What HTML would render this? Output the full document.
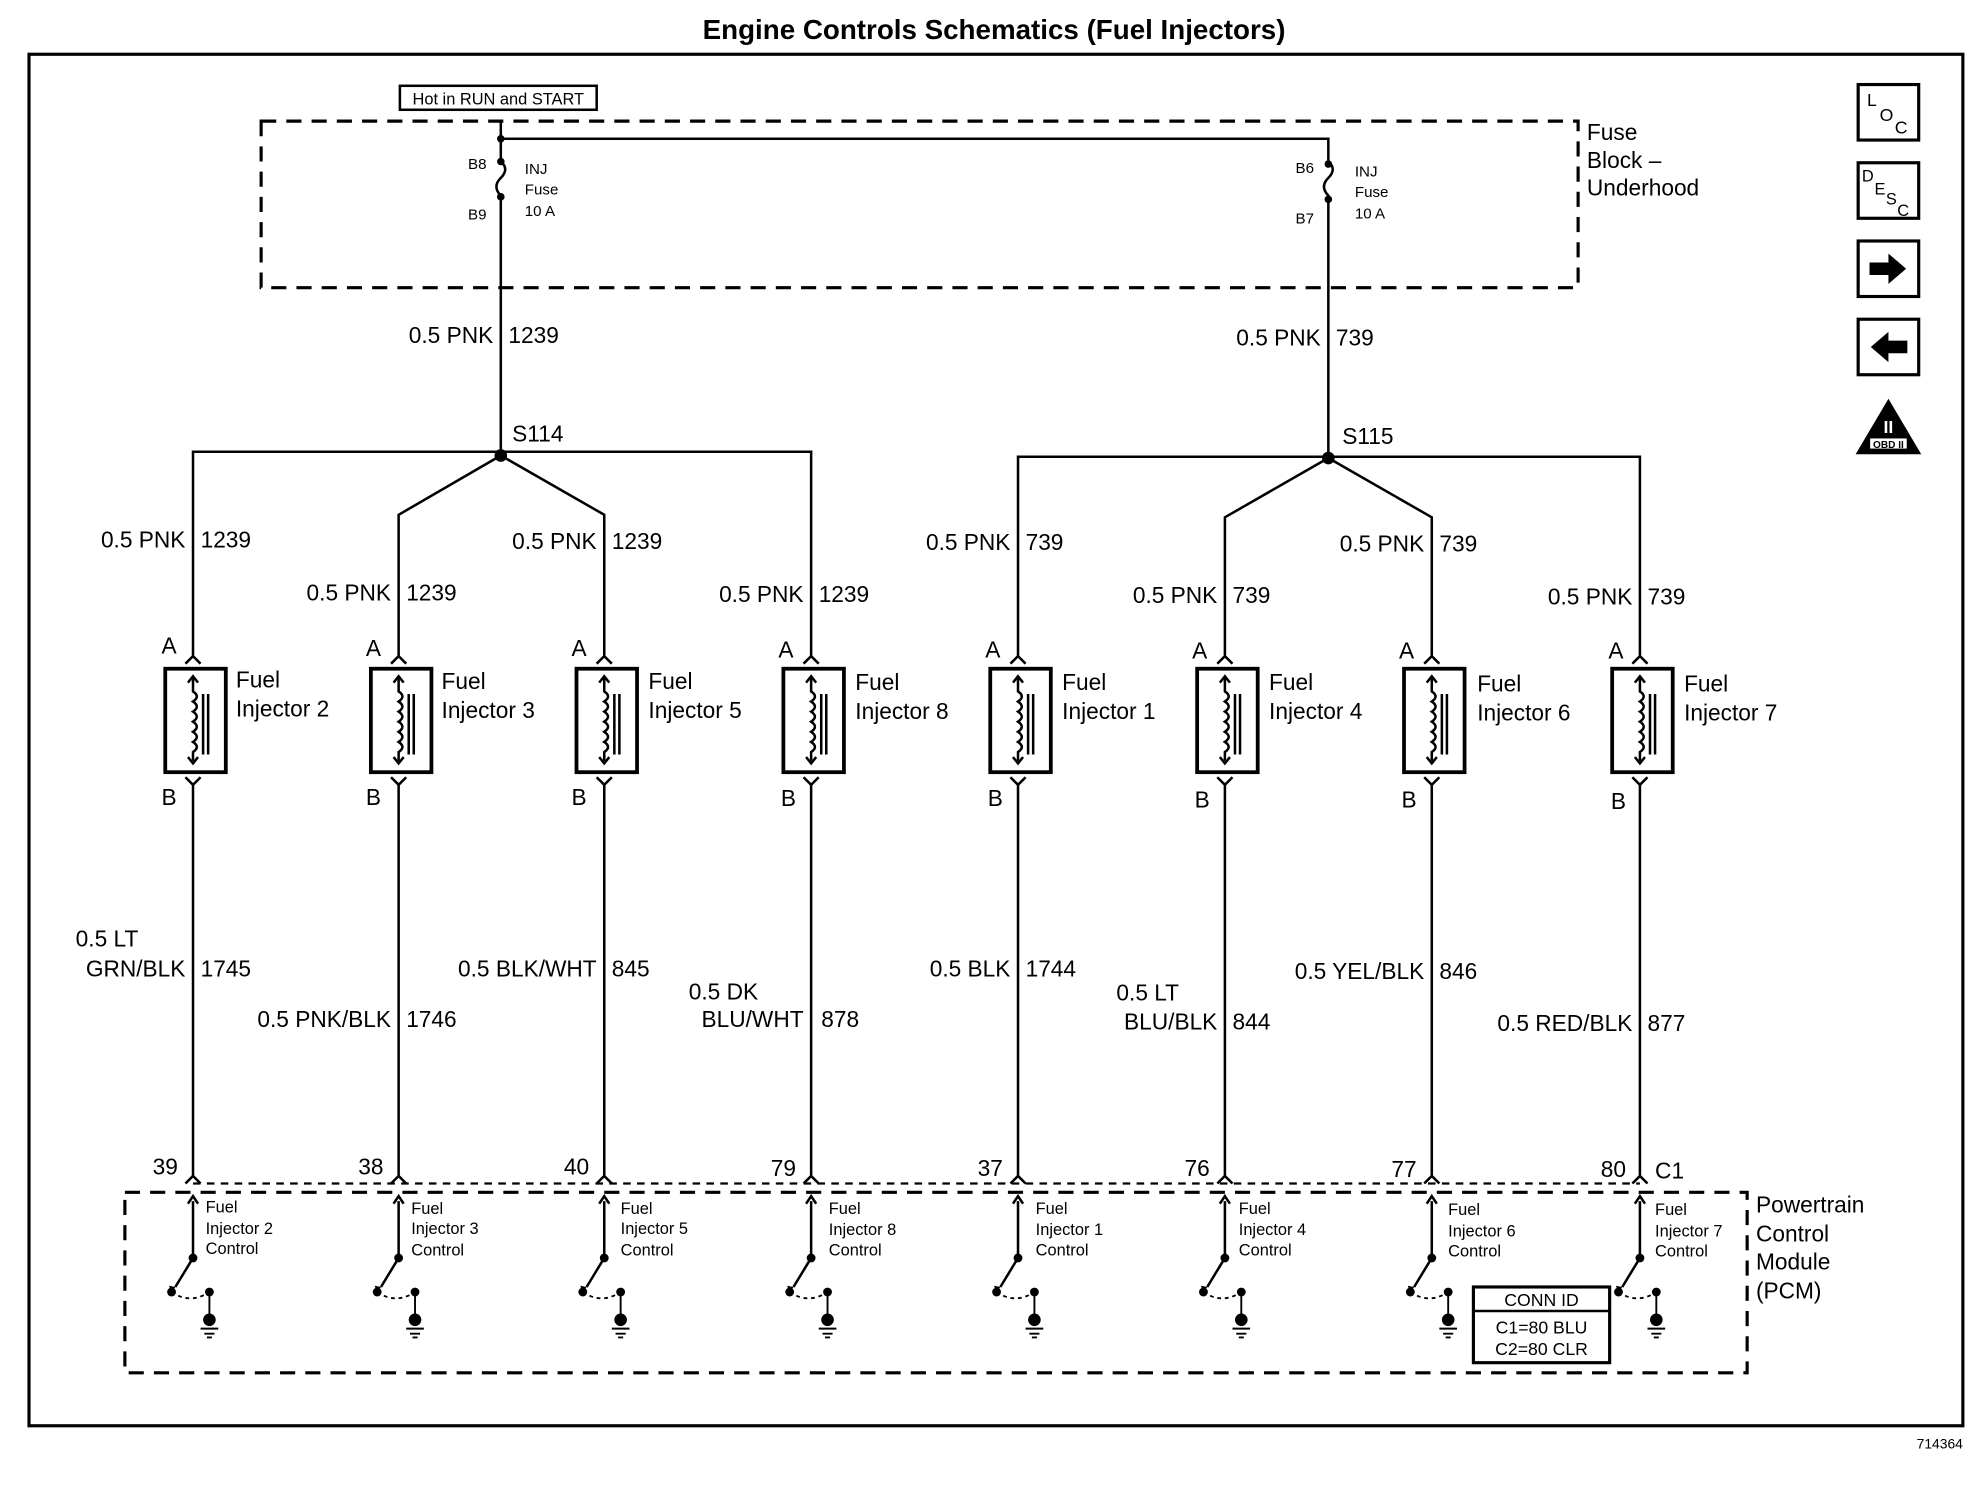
<!DOCTYPE html>
<html><head><meta charset="utf-8"><style>
html,body{margin:0;padding:0;background:#fff}
svg{display:block}
text{font-family:"Liberation Sans",Arial,sans-serif;fill:#000}
</style></head><body>
<svg width="1978" height="1504" viewBox="0 0 1568 1192" preserveAspectRatio="none" xmlns="http://www.w3.org/2000/svg">
<defs>
<g id="inj" fill="none" stroke="#000">
<rect x="-22" y="530" width="48" height="82" stroke-width="3"/>
<path d="M0,537 V548 q6,4 0,8 q6,4 0,8 q6,4 0,8 q6,4 0,8 q6,4 0,8 q6,4 0,8 V603" stroke-width="2"/>
<path d="M-4,541 L0,536 L4,541 M-4,600 L0,605 L4,600" stroke-width="2"/>
<path d="M8,550 V598 M12,550 V598" stroke-width="2"/>
<path d="M-6,526 L0,520 L6,526 M-6,616 L0,622 L6,616" stroke-width="2"/>
<path d="M-6,938 L0,932 L6,938" stroke-width="2"/>
<path d="M0,952 V997 L-14,1020" stroke-width="2"/>
<path d="M-4,954 L0,948 L4,954" stroke-width="2"/>
<path d="M-17,1024 q15,10 30,0" stroke-width="1.5" stroke-dasharray="3,3"/>
<path d="M13,1024 V1044 M6,1053 H20 M9,1057 H17 M11,1060 H15" stroke-width="1.5"/>
</g>
<g id="dots">
<circle cx="0" cy="997" r="3.5"/><circle cx="-17" cy="1024" r="3.5"/><circle cx="13" cy="1024" r="3.5"/>
<ellipse cx="13" cy="1046" rx="5" ry="5"/>
<path d="M-14,1020 l-5,-1 l2,6 z"/>
</g>
</defs>
<text x="788" y="31" font-size="22" font-weight="bold" text-anchor="middle">Engine Controls Schematics (Fuel Injectors)</text>
<rect x="23" y="43" width="1533" height="1087" fill="none" stroke="#000" stroke-width="2.5"/>
<text x="1556" y="1148" font-size="11" text-anchor="end">714364</text>

<!-- fuse block -->
<rect x="207" y="96" width="1044" height="132" fill="none" stroke="#000" stroke-width="2.5" stroke-dasharray="12,8"/>
<rect x="317" y="68" width="156" height="19" fill="#fff" stroke="#000" stroke-width="2"/>
<text x="395" y="83" font-size="13" text-anchor="middle">Hot in RUN and START</text>
<text x="1258" y="111" font-size="18">Fuse</text>
<text x="1258" y="133" font-size="18">Block –</text>
<text x="1258" y="155" font-size="18">Underhood</text>
<g fill="none" stroke="#000" stroke-width="2">
<path d="M397,96 V128 q7,6 0,13 q-7,7 0,14 V358"/>
<path d="M397,110 H1053 V128 q7,6 0,13 q-7,7 0,14 V362"/>
</g>
<circle cx="397" cy="110" r="3"/><circle cx="397" cy="128" r="3"/><circle cx="397" cy="156" r="3"/>
<circle cx="1053" cy="130" r="3"/><circle cx="1053" cy="158" r="3"/>
<g font-size="12">
<text x="371" y="134">B8</text><text x="371" y="174">B9</text>
<text x="416" y="138">INJ</text><text x="416" y="154">Fuse</text><text x="416" y="171">10 A</text>
<text x="1027" y="137">B6</text><text x="1027" y="177">B7</text>
<text x="1074" y="140">INJ</text><text x="1074" y="156">Fuse</text><text x="1074" y="173">10 A</text>
</g>
<g font-size="18">
<text x="391" y="272" text-anchor="end">0.5 PNK</text><text x="403" y="272">1239</text>
<text x="1047" y="274" text-anchor="end">0.5 PNK</text><text x="1059" y="274">739</text>
<text x="406" y="350">S114</text><text x="1064" y="352">S115</text>
</g>

<!-- distribution -->
<g fill="none" stroke="#000" stroke-width="2">
<path d="M153,520 V358 H643 V520"/>
<path d="M316,520 V408 L397,361 L479,408 V520"/>
<path d="M807,520 V362 H1300 V520"/>
<path d="M971,520 V410 L1053,363 L1135,410 V520"/>
<path d="M153,622 V932 M316,622 V932 M479,622 V932 M643,622 V932 M807,622 V932 M971,622 V932 M1135,622 V932 M1300,622 V932"/>
</g>
<circle cx="397" cy="361" r="5"/><circle cx="1053" cy="363" r="5"/>

<use href="#inj" x="153"/><use href="#inj" x="316"/><use href="#inj" x="479"/><use href="#inj" x="643"/>
<use href="#inj" x="807"/><use href="#inj" x="971"/><use href="#inj" x="1135"/><use href="#inj" x="1300"/>
<use href="#dots" x="153"/><use href="#dots" x="316"/><use href="#dots" x="479"/><use href="#dots" x="643"/>
<use href="#dots" x="807"/><use href="#dots" x="971"/><use href="#dots" x="1135"/><use href="#dots" x="1300"/>

<g font-size="18">
<!-- upper wire labels -->
<text x="147" y="434" text-anchor="end">0.5 PNK</text><text x="159" y="434">1239</text>
<text x="310" y="476" text-anchor="end">0.5 PNK</text><text x="322" y="476">1239</text>
<text x="473" y="435" text-anchor="end">0.5 PNK</text><text x="485" y="435">1239</text>
<text x="637" y="477" text-anchor="end">0.5 PNK</text><text x="649" y="477">1239</text>
<text x="801" y="436" text-anchor="end">0.5 PNK</text><text x="813" y="436">739</text>
<text x="965" y="478" text-anchor="end">0.5 PNK</text><text x="977" y="478">739</text>
<text x="1129" y="437" text-anchor="end">0.5 PNK</text><text x="1141" y="437">739</text>
<text x="1294" y="479" text-anchor="end">0.5 PNK</text><text x="1306" y="479">739</text>
<!-- A/B -->
<text x="128" y="518">A</text><text x="128" y="638">B</text>
<text x="290" y="520">A</text><text x="290" y="638">B</text>
<text x="453" y="520">A</text><text x="453" y="638">B</text>
<text x="617" y="521">A</text><text x="619" y="639">B</text>
<text x="781" y="521">A</text><text x="783" y="639">B</text>
<text x="945" y="522">A</text><text x="947" y="640">B</text>
<text x="1109" y="522">A</text><text x="1111" y="640">B</text>
<text x="1275" y="522">A</text><text x="1277" y="641">B</text>
<!-- injector labels -->
<text x="187" y="545">Fuel</text><text x="187" y="568">Injector 2</text>
<text x="350" y="546">Fuel</text><text x="350" y="569">Injector 3</text>
<text x="514" y="546">Fuel</text><text x="514" y="569">Injector 5</text>
<text x="678" y="547">Fuel</text><text x="678" y="570">Injector 8</text>
<text x="842" y="547">Fuel</text><text x="842" y="570">Injector 1</text>
<text x="1006" y="547">Fuel</text><text x="1006" y="570">Injector 4</text>
<text x="1171" y="548">Fuel</text><text x="1171" y="571">Injector 6</text>
<text x="1335" y="548">Fuel</text><text x="1335" y="571">Injector 7</text>
<!-- lower wire labels -->
<text x="60" y="750">0.5 LT</text><text x="147" y="774" text-anchor="end">GRN/BLK</text><text x="159" y="774">1745</text>
<text x="310" y="814" text-anchor="end">0.5 PNK/BLK</text><text x="322" y="814">1746</text>
<text x="473" y="774" text-anchor="end">0.5 BLK/WHT</text><text x="485" y="774">845</text>
<text x="546" y="792">0.5 DK</text><text x="637" y="814" text-anchor="end">BLU/WHT</text><text x="651" y="814">878</text>
<text x="801" y="774" text-anchor="end">0.5 BLK</text><text x="813" y="774">1744</text>
<text x="885" y="793">0.5 LT</text><text x="965" y="816" text-anchor="end">BLU/BLK</text><text x="977" y="816">844</text>
<text x="1129" y="776" text-anchor="end">0.5 YEL/BLK</text><text x="1141" y="776">846</text>
<text x="1294" y="817" text-anchor="end">0.5 RED/BLK</text><text x="1306" y="817">877</text>
<!-- pins -->
<text x="141" y="931" text-anchor="end">39</text><text x="304" y="931" text-anchor="end">38</text>
<text x="467" y="931" text-anchor="end">40</text><text x="631" y="932" text-anchor="end">79</text>
<text x="795" y="932" text-anchor="end">37</text><text x="959" y="932" text-anchor="end">76</text>
<text x="1123" y="933" text-anchor="end">77</text><text x="1289" y="933" text-anchor="end">80</text>
<text x="1312" y="934">C1</text>
</g>

<!-- connector line and PCM -->
<path d="M153,938 H1300" stroke="#000" stroke-width="1.8" stroke-dasharray="6,5" fill="none"/>
<rect x="99" y="945" width="1286" height="143" fill="none" stroke="#000" stroke-width="2.5" stroke-dasharray="12,8"/>
<g font-size="18">
<text x="1392" y="961">Powertrain</text><text x="1392" y="984">Control</text>
<text x="1392" y="1006">Module</text><text x="1392" y="1029">(PCM)</text>
</g>
<g font-size="13">
<text x="163" y="961">Fuel</text><text x="163" y="978">Injector 2</text><text x="163" y="994">Control</text>
<text x="326" y="962">Fuel</text><text x="326" y="978">Injector 3</text><text x="326" y="995">Control</text>
<text x="492" y="962">Fuel</text><text x="492" y="978">Injector 5</text><text x="492" y="995">Control</text>
<text x="657" y="962">Fuel</text><text x="657" y="979">Injector 8</text><text x="657" y="995">Control</text>
<text x="821" y="962">Fuel</text><text x="821" y="979">Injector 1</text><text x="821" y="995">Control</text>
<text x="982" y="962">Fuel</text><text x="982" y="979">Injector 4</text><text x="982" y="995">Control</text>
<text x="1148" y="963">Fuel</text><text x="1148" y="980">Injector 6</text><text x="1148" y="996">Control</text>
<text x="1312" y="963">Fuel</text><text x="1312" y="980">Injector 7</text><text x="1312" y="996">Control</text>
</g>
<rect x="1168" y="1020" width="108" height="60" fill="#fff" stroke="#000" stroke-width="2.5"/>
<line x1="1168" y1="1039" x2="1276" y2="1039" stroke="#000" stroke-width="2"/>
<g font-size="14" text-anchor="middle">
<text x="1222" y="1035">CONN ID</text><text x="1222" y="1057">C1=80 BLU</text><text x="1222" y="1074">C2=80 CLR</text>
</g>

<!-- icons -->
<g fill="none" stroke="#000" stroke-width="2.5">
<rect x="1473" y="67" width="48" height="44"/>
<rect x="1473" y="129" width="48" height="44"/>
<rect x="1473" y="191" width="48" height="44"/>
<rect x="1473" y="253" width="48" height="44"/>
</g>
<text x="1480" y="84" font-size="14">L</text><text x="1490" y="96" font-size="14">O</text><text x="1502" y="106" font-size="14">C</text>
<text x="1476" y="144" font-size="13">D</text><text x="1486" y="154" font-size="13">E</text><text x="1495" y="162" font-size="13">S</text><text x="1504" y="171" font-size="13">C</text>
<path d="M1482,208 H1497 V201 L1511,213 L1497,225 V218 H1482 Z"/>
<path d="M1512,270 H1497 V263 L1483,275 L1497,287 V280 H1512 Z"/>
<path d="M1497,316 L1523,360 H1471 Z"/>
<rect x="1482" y="347" width="30" height="9" fill="#fff" stroke="#000"/>
<text x="1497" y="355" font-size="8" text-anchor="middle" font-weight="bold">OBD II</text>
<text x="1497" y="343" font-size="14" text-anchor="middle" font-weight="bold" style="fill:#fff">II</text>
</svg>
</body></html>
